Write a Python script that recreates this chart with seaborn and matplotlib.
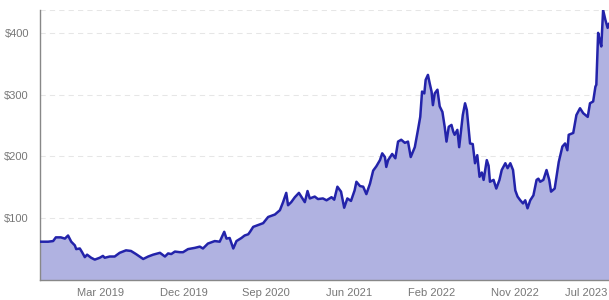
import matplotlib
matplotlib.use("Agg")
import matplotlib.pyplot as plt
import matplotlib.transforms as mtransforms
import seaborn as sns
import pandas as pd

# trading-day index and closing price
day = [0, 18, 29, 35, 46, 55, 62, 69, 77, 80, 88, 93, 99, 104, 113, 121, 132, 139,
       143, 154, 165, 176, 190, 201, 212, 228, 239, 250, 265, 276, 283, 290, 298, 309,
       316, 327, 342, 353, 360, 371, 386, 397, 407, 412, 419, 427, 434, 445, 452, 460,
       464, 471, 482, 493, 504, 519, 530, 537, 544, 548, 555, 563, 572, 585, 591, 596,
       607, 614, 625, 633, 644, 650, 657, 665, 672, 679, 687, 695, 699, 707, 714, 721,
       729, 736, 743, 751, 756, 762, 765, 769, 778, 785, 791, 798, 806, 813, 819, 828,
       835, 840, 844, 849, 852, 857, 861, 865, 868, 872, 878, 883, 889, 894, 898, 903,
       909, 913, 916, 922, 926, 934, 939, 943, 950, 956, 961, 966, 971, 976, 980, 987,
       991, 994, 1002, 1008, 1015, 1020, 1028, 1033, 1039, 1045, 1050, 1055, 1061, 1067,
       1072, 1077, 1083, 1090, 1097, 1101, 1105, 1112, 1119, 1125, 1129, 1137, 1146,
       1154, 1160, 1165, 1168, 1178, 1185, 1193, 1200, 1210, 1215, 1222, 1227, 1229,
       1233, 1237, 1240, 1244, 1249, 1254, 1257]
price = [62, 62, 63, 69, 69, 67, 72, 62, 56, 50, 51, 45, 37, 41, 36, 33, 36, 39,
         36, 38, 38, 44, 48, 47, 42, 34, 38, 41, 44, 38, 43, 42, 46, 45,
         45, 50, 52, 54, 51, 59, 63, 62, 78, 67, 68, 51, 63, 68, 72, 74,
         78, 86, 89, 92, 102, 106, 113, 126, 141, 121, 126, 134, 141, 126, 144, 132,
         135, 131, 132, 129, 134, 130, 151, 143, 117, 132, 128, 145, 159, 152, 151, 139,
         156, 177, 184, 194, 205, 199, 183, 194, 204, 197, 224, 227, 222, 224, 199, 215,
         243, 264, 305, 302, 324, 332, 318, 305, 283, 302, 308, 281, 272, 248, 224, 248,
         251, 240, 235, 243, 215, 267, 286, 275, 221, 220, 189, 202, 167, 174, 162, 194,
         185, 159, 162, 148, 162, 178, 189, 181, 189, 178, 145, 135, 129, 124,
         129, 116, 129, 137, 162, 164, 159, 162, 178, 162, 143, 148, 191,
         216, 221, 210, 235, 238, 267, 278, 270, 264, 286, 289, 313, 316,
         400, 386, 378, 437, 421, 408, 415]

tick_labels = ["Mar 2019", "Dec 2019", "Sep 2020", "Jun 2021", "Feb 2022", "Nov 2022", "Jul 2023"]
first_tick = 134
tick_step = 183
y_ticks = [100, 200, 300, 400]

df = pd.DataFrame({"day": day, "price": price})

sns.set_theme(style="white")
plt.rcParams["font.family"] = ["Liberation Sans", "DejaVu Sans"]

fig = plt.figure(figsize=(6.09, 3.0), dpi=100)
ax = fig.add_axes([40 / 609, 20 / 300, 569 / 609, 270 / 300])

line_color = "#2323aa"
fill_color = "#b0b2e1"
ax.fill_between(df["day"], df["price"], 0, color=fill_color, linewidth=0, zorder=1)
sns.lineplot(data=df, x="day", y="price", ax=ax, color=line_color, linewidth=1.8, zorder=3)

ymax = max(price)
ax.set_xlim(0, max(day))
ax.set_ylim(0, ymax)

grid_kw = dict(color="#e6e6e6", linewidth=0.75, linestyle=(0, (5, 4)), zorder=0)
for v in y_ticks + [ymax]:
    ax.axhline(v, **grid_kw)

ax.set_yticks(y_ticks)
ax.set_yticklabels([f"${v}" for v in y_ticks])
xt = [first_tick + tick_step * i for i in range(len(tick_labels))]
ax.set_xticks(xt)
ax.set_xticklabels(tick_labels)
ax.tick_params(axis="both", length=0, labelsize=8, colors="#777777")
ax.tick_params(axis="y", pad=8)
ax.tick_params(axis="x", pad=6)

# last label is kept inside the figure edge
last = ax.get_xticklabels()[-1]
last.set_horizontalalignment("right")
last.set_transform(last.get_transform() + mtransforms.ScaledTranslation(9.5 / 100, 0, fig.dpi_scale_trans))

ax.set_xlabel("")
ax.set_ylabel("")
for s in ["top", "right"]:
    ax.spines[s].set_visible(False)
for s in ["left", "bottom"]:
    ax.spines[s].set_color("#888888")
    ax.spines[s].set_linewidth(1.0)

fig.savefig("out.png", dpi=100)
